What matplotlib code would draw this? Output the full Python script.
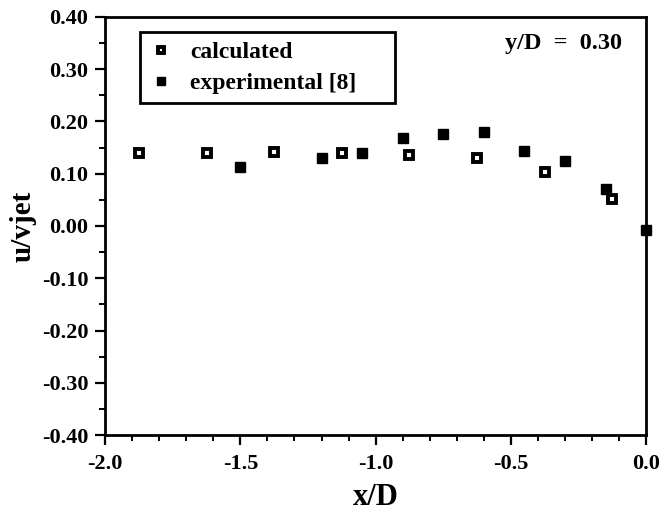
import numpy as np
import matplotlib.pyplot as plt
from matplotlib.ticker import MultipleLocator, FormatStrFormatter

# valores
calc_x = [-1.875, -1.625, -1.375, -1.125, -0.875, -0.625, -0.375, -0.125]
calc_y = [0.140, 0.140, 0.142, 0.140, 0.136, 0.130, 0.103, 0.052]

exp_x = [-1.50, -1.20, -1.05, -0.90, -0.75, -0.60, -0.45, -0.30, -0.15, 0.0]
exp_y = [0.113, 0.130, 0.140, 0.168, 0.176, 0.180, 0.144, 0.124, 0.071, -0.008]

x_ticks = [-2.0, -1.5, -1.0, -0.5, 0.0]
y_ticks = [-0.40, -0.30, -0.20, -0.10, 0.00, 0.10, 0.20, 0.30, 0.40]

plt.rcParams['font.family'] = ['Liberation Serif', 'DejaVu Serif']
plt.rcParams['font.weight'] = 'bold'
plt.rcParams['axes.unicode_minus'] = False

fig = plt.figure(figsize=(6.69, 5.13), dpi=100)
ax = fig.add_axes([0.157, 0.152, 0.809, 0.815])

ax.plot(calc_x, calc_y, linestyle='none', marker='s', markersize=5.6,
        markerfacecolor='white', markeredgecolor='black', markeredgewidth=2.8,
        label='calculated', clip_on=False, zorder=3)
ax.plot(exp_x, exp_y, linestyle='none', marker='s', markersize=7.6,
        color='black', label='experimental [8]', clip_on=False, zorder=3)

ax.set_xlim(-2.0, 0.0)
ax.set_ylim(-0.40, 0.40)
ax.set_xticks(x_ticks)
ax.set_yticks(y_ticks)
ax.xaxis.set_minor_locator(MultipleLocator(0.1))
ax.yaxis.set_minor_locator(MultipleLocator(0.05))
ax.xaxis.set_major_formatter(FormatStrFormatter('%.1f'))
ax.yaxis.set_major_formatter(FormatStrFormatter('%.2f'))

ax.tick_params(which='major', direction='out', length=7, width=1.6,
               labelsize=16, pad=5, top=False, right=False)
ax.tick_params(which='minor', direction='out', length=4, width=1.4,
               top=False, right=False)
ax.tick_params(axis='x', which='major', pad=7)
for lbl in ax.get_xticklabels() + ax.get_yticklabels():
    lbl.set_fontweight('bold')

for s in ax.spines.values():
    s.set_linewidth(2)

ax.set_xlabel('x/D', fontsize=22, fontweight='bold', labelpad=6)
ax.set_ylabel('u/vjet', fontsize=21, fontweight='bold', labelpad=4)

ax.text(0.956, 0.937, 'y/D  =  0.30', transform=ax.transAxes, ha='right',
        va='center', fontsize=17.5, fontweight='bold')

leg = ax.legend(loc='upper left', bbox_to_anchor=(0.065, 0.80, 0.471, 0.164),
                mode='expand', fancybox=False,
                edgecolor='black', framealpha=1, handlelength=1.0,
                handletextpad=0.7, borderpad=0.4, labelspacing=0.4,
                borderaxespad=0, prop={'weight': 'bold', 'size': 17})
leg.get_frame().set_linewidth(2)
for h in leg.legend_handles:
    h.set_markersize(h.get_markersize() * 0.85)

fig.savefig('out.png', dpi=100)
